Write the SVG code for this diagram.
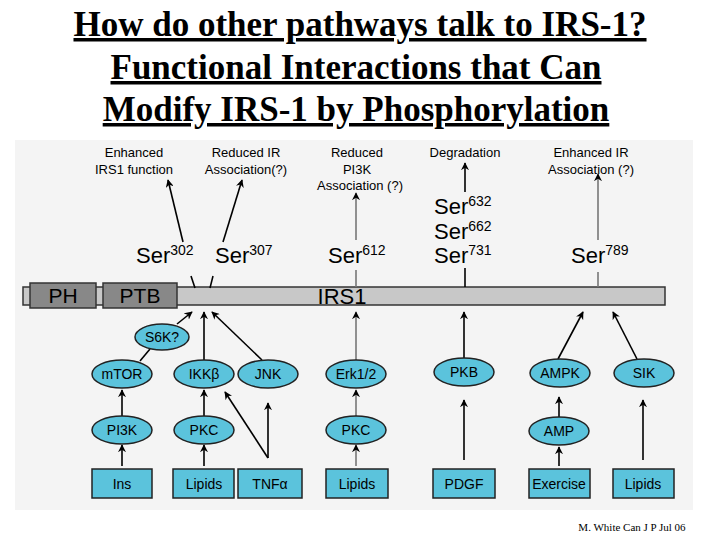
<svg xmlns="http://www.w3.org/2000/svg" width="720" height="540" viewBox="0 0 720 540">
<defs>
<marker id="ah" viewBox="0 0 10 10" refX="9" refY="5" markerWidth="8" markerHeight="8" orient="auto-start-reverse" markerUnits="userSpaceOnUse"><path d="M0,0 L10,5 L0,10 L3,5 Z" fill="#000"/></marker>
<marker id="ahg" viewBox="0 0 10 10" refX="9" refY="5" markerWidth="8" markerHeight="8" orient="auto" markerUnits="userSpaceOnUse"><path d="M0,0 L10,5 L0,10 L3,5 Z" fill="#000"/></marker>
</defs>
<style>
.t{font-family:"Liberation Serif",serif;font-weight:bold;font-size:35px;text-decoration:underline;text-anchor:middle}
.s{font-family:"Liberation Sans",Arial,sans-serif;font-size:13px;text-anchor:middle}
.ser{font-family:"Liberation Sans",Arial,sans-serif;font-size:22px}
.sup{font-size:14px}
.n{fill:#5bc3dc;stroke:#222;stroke-width:1.5}
.nl{font-family:"Liberation Sans",Arial,sans-serif;font-size:14px;text-anchor:middle}
.c{stroke:#000;stroke-width:1.6;fill:none}
.g{stroke:#777;stroke-width:1.6;fill:none}
.d{fill:#888;stroke:#333;stroke-width:1.5}
</style>
<rect width="720" height="540" fill="#fff"/>
<rect x="15" y="140" width="678" height="370" fill="#f4f4f4"/>
<text class="t" x="360" y="36">How do other pathways talk to IRS-1? </text>
<text class="t" x="356" y="79">Functional Interactions that Can</text>
<text class="t" x="356" y="121">Modify IRS-1 by Phosphorylation</text>
<g class="s">
<text x="134" y="157">Enhanced</text><text x="134" y="174">IRS1 function</text>
<text x="246" y="157">Reduced IR</text><text x="246" y="174">Association(?)</text>
<text x="357" y="157">Reduced</text><text x="357" y="174">PI3K</text><text x="360" y="190">Association (?)</text>
<text x="465" y="157">Degradation</text>
<text x="591" y="157">Enhanced IR</text><text x="591" y="174">Association (?)</text>
</g>
<g class="ser">
<text x="136" y="263">Ser<tspan class="sup" dy="-8">302</tspan></text>
<text x="215" y="263">Ser<tspan class="sup" dy="-8">307</tspan></text>
<text x="328" y="263">Ser<tspan class="sup" dy="-8">612</tspan></text>
<text x="434" y="214">Ser<tspan class="sup" dy="-8">632</tspan></text>
<text x="434" y="239">Ser<tspan class="sup" dy="-8">662</tspan></text>
<text x="434" y="263">Ser<tspan class="sup" dy="-8">731</tspan></text>
<text x="571" y="263">Ser<tspan class="sup" dy="-8">789</tspan></text>
</g>
<g id="irs1">
<rect x="23" y="287" width="642" height="18" fill="#c8c8c8" stroke="#333" stroke-width="1.5"/>
<text x="342" y="304" font-family="Liberation Sans,Arial,sans-serif" font-size="22" text-anchor="middle">IRS1</text>
</g>
<g id="ph"><rect class="d" x="30" y="283" width="66" height="25"/><text x="63" y="303" font-family="Liberation Sans,Arial,sans-serif" font-size="21" text-anchor="middle">PH</text></g>
<g id="ptb"><rect class="d" x="103" y="283" width="74" height="25"/><text x="140" y="303" font-family="Liberation Sans,Arial,sans-serif" font-size="21" text-anchor="middle">PTB</text></g>
<g id="connectors">
<line class="c" x1="183" y1="242" x2="168" y2="180" marker-end="url(#ah)"/>
<line class="c" x1="191" y1="276" x2="195" y2="288"/>
<line class="c" x1="223" y1="242" x2="242" y2="180" marker-end="url(#ah)"/>
<line class="c" x1="213" y1="276" x2="210" y2="288"/>
<line class="g" x1="356" y1="240" x2="356" y2="193" marker-end="url(#ahg)"/>
<line class="g" x1="356" y1="270" x2="356" y2="287"/>
<line class="c" x1="465" y1="192" x2="465" y2="163" marker-end="url(#ah)"/>
<line class="c" x1="465" y1="268" x2="465" y2="287"/>
<line class="g" x1="598" y1="240" x2="598" y2="174" marker-end="url(#ahg)"/>
<line class="g" x1="598" y1="272" x2="598" y2="287"/>
<line class="c" x1="177" y1="324" x2="192" y2="312" marker-end="url(#ah)"/>
<line class="c" x1="140" y1="361" x2="150" y2="349"/>
<line class="c" x1="204" y1="360" x2="204" y2="312" marker-end="url(#ah)"/>
<line class="c" x1="262" y1="360" x2="212" y2="312" marker-end="url(#ah)"/>
<line class="c" x1="122" y1="416" x2="122" y2="390" marker-end="url(#ah)"/>
<line class="c" x1="122" y1="466" x2="122" y2="445" marker-end="url(#ah)"/>
<line class="c" x1="204" y1="416" x2="204" y2="390" marker-end="url(#ah)"/>
<line class="c" x1="204" y1="466" x2="204" y2="445" marker-end="url(#ah)"/>
<line class="c" x1="268" y1="458" x2="225" y2="392" marker-end="url(#ah)"/>
<line class="c" x1="268" y1="458" x2="268" y2="403" marker-end="url(#ah)"/>
<line class="g" x1="356" y1="360" x2="356" y2="312" marker-end="url(#ahg)"/>
<line class="g" x1="356" y1="416" x2="356" y2="390" marker-end="url(#ahg)"/>
<line class="g" x1="356" y1="466" x2="356" y2="445" marker-end="url(#ahg)"/>
<line class="c" x1="464" y1="358" x2="464" y2="312" marker-end="url(#ah)"/>
<line class="c" x1="464" y1="460" x2="464" y2="400" marker-end="url(#ah)"/>
<line class="c" x1="558" y1="359" x2="583" y2="312" marker-end="url(#ah)"/>
<line class="c" x1="559" y1="417" x2="559" y2="397" marker-end="url(#ah)"/>
<line class="c" x1="559" y1="466" x2="559" y2="447" marker-end="url(#ah)"/>
<line class="c" x1="637" y1="359" x2="613" y2="312" marker-end="url(#ah)"/>
<line class="c" x1="643" y1="460" x2="643" y2="400" marker-end="url(#ah)"/>
</g>
<g id="s6k"><ellipse class="n" cx="162" cy="337" rx="27" ry="13"/><text class="nl" x="162" y="342">S6K?</text></g>
<g id="mtor"><ellipse class="n" cx="122" cy="374" rx="30" ry="14"/><text class="nl" x="122" y="379">mTOR</text></g>
<g id="ikkb"><ellipse class="n" cx="204" cy="374" rx="30" ry="14"/><text class="nl" x="204" y="379">IKKβ</text></g>
<g id="jnk"><ellipse class="n" cx="268" cy="374" rx="30" ry="14"/><text class="nl" x="268" y="379">JNK</text></g>
<g id="erk"><ellipse class="n" cx="356" cy="374" rx="30" ry="14"/><text class="nl" x="356" y="379">Erk1/2</text></g>
<g id="pkb"><ellipse class="n" cx="464" cy="372" rx="30" ry="14"/><text class="nl" x="464" y="377">PKB</text></g>
<g id="ampk"><ellipse class="n" cx="560" cy="373" rx="30" ry="14"/><text class="nl" x="560" y="378">AMPK</text></g>
<g id="sik"><ellipse class="n" cx="644" cy="373" rx="30" ry="14"/><text class="nl" x="644" y="378">SIK</text></g>
<g id="pi3k"><ellipse class="n" cx="122" cy="430" rx="30" ry="14"/><text class="nl" x="122" y="435">PI3K</text></g>
<g id="pkc1"><ellipse class="n" cx="204" cy="430" rx="30" ry="14"/><text class="nl" x="204" y="435">PKC</text></g>
<g id="pkc2"><ellipse class="n" cx="356" cy="430" rx="30" ry="14"/><text class="nl" x="356" y="435">PKC</text></g>
<g id="amp"><ellipse class="n" cx="559" cy="431" rx="30" ry="14"/><text class="nl" x="559" y="436">AMP</text></g>
<g id="ins"><rect class="n" x="92" y="469" width="60" height="29"/><text class="nl" x="122" y="489">Ins</text></g>
<g id="lipids1"><rect class="n" x="173" y="469" width="61" height="29"/><text class="nl" x="204" y="489">Lipids</text></g>
<g id="tnfa"><rect class="n" x="238" y="469" width="64" height="29"/><text class="nl" x="270" y="489">TNFα</text></g>
<g id="lipids2"><rect class="n" x="326" y="469" width="62" height="29"/><text class="nl" x="357" y="489">Lipids</text></g>
<g id="pdgf"><rect class="n" x="433" y="469" width="62" height="29"/><text class="nl" x="464" y="489">PDGF</text></g>
<g id="exercise"><rect class="n" x="529" y="469" width="61" height="29"/><text class="nl" x="559" y="489">Exercise</text></g>
<g id="lipids3"><rect class="n" x="613" y="469" width="61" height="29"/><text class="nl" x="643" y="489">Lipids</text></g>
<text x="632" y="531" font-family="Liberation Serif,serif" font-size="11" text-anchor="middle">M. White Can J P Jul 06</text>
</svg>
